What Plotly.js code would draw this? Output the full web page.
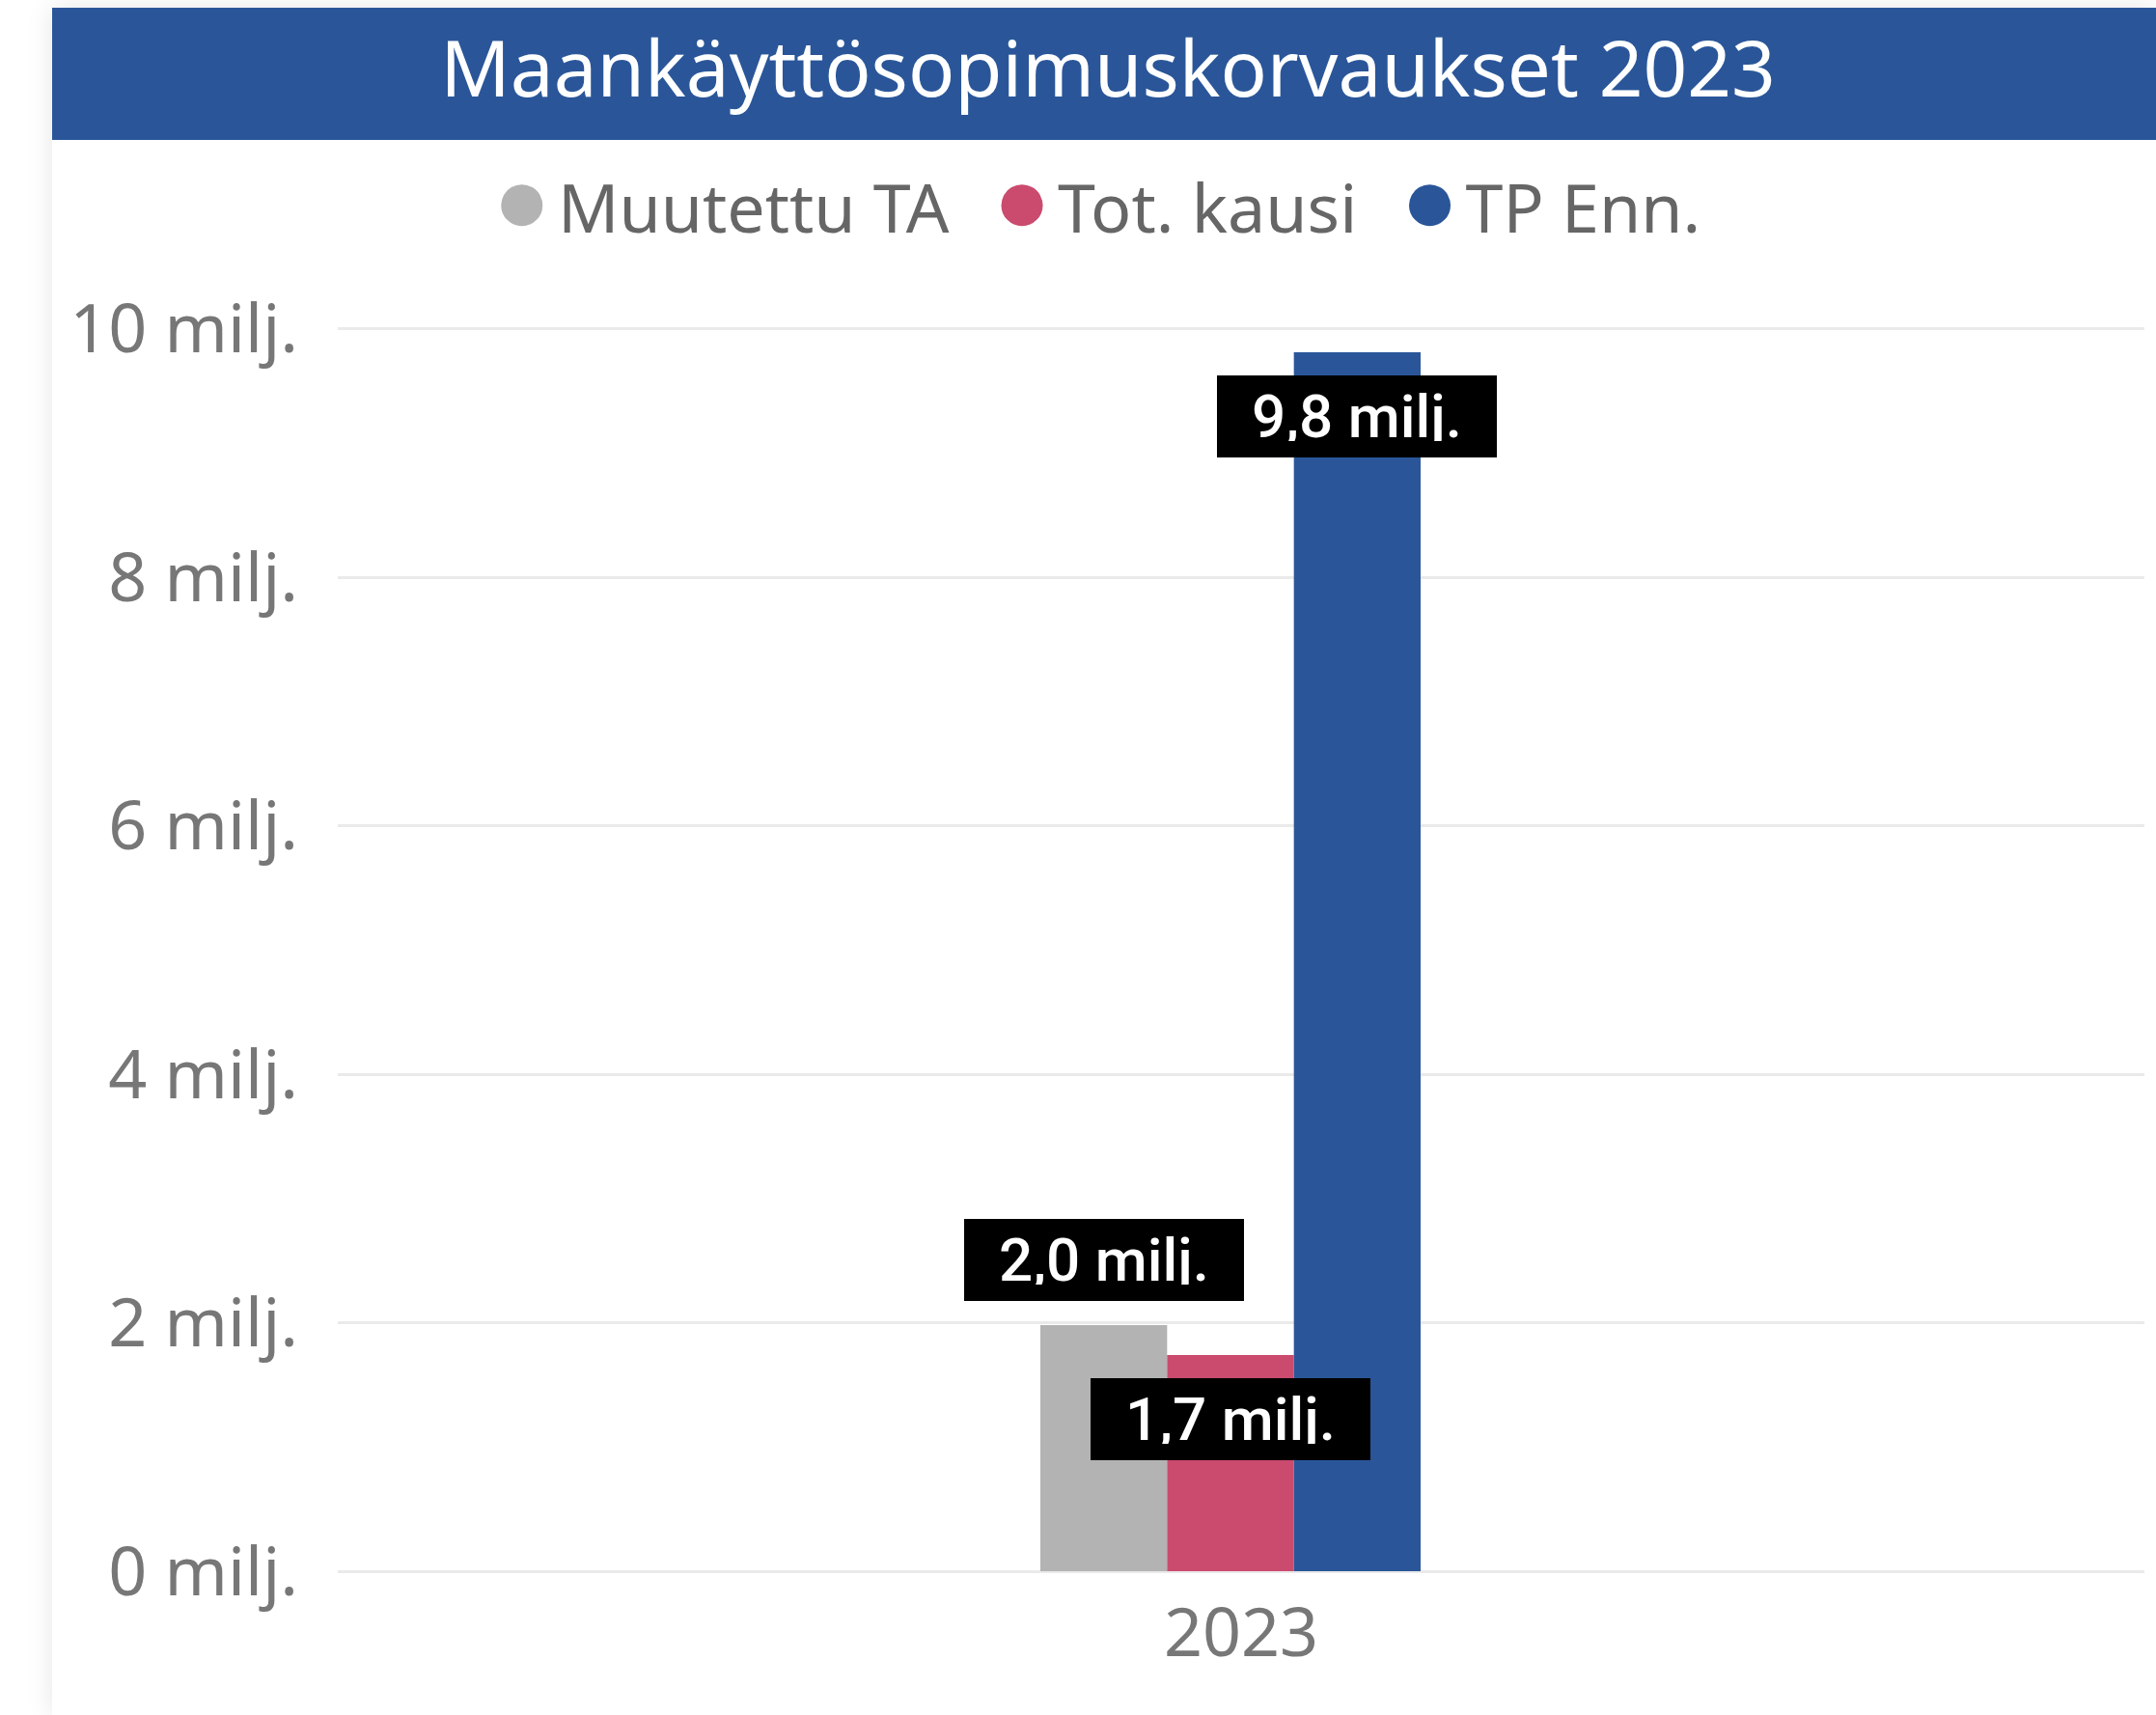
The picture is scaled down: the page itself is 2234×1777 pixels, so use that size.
<!DOCTYPE html>
<html>
<head>
<meta charset="utf-8">
<script src="https://cdn.plot.ly/plotly-3.0.1.min.js"></script>
<style>
  html, body { margin: 0; padding: 0; background: #ffffff; width: 2234px; height: 1777px; overflow: hidden; }
  #card { position: absolute; left: 54px; top: 8px; width: 2180px; height: 1769px; background: #ffffff;
          box-shadow: 0 0 26px rgba(0,0,0,0.10); }
  #chart { position: absolute; left: 0; top: 0; width: 2234px; height: 1777px; }
  #chart .legend .legendpoints { display: none; }
</style>
</head>
<body>
<div id="card"></div>
<div id="chart"></div>
<script>
// ---- data ----
var categories = ['2023'];
var seriesNames = ['Muutettu TA', 'Tot. kausi', 'TP Enn.'];
var muutettuTA = [1.98];
var totKausi = [1.74];
var tpEnn = [9.81];
var seriesColors = ['#B3B3B3', '#CA4B6E', '#2A5699'];
var yTickVals = [0, 2, 4, 6, 8, 10];
var yTickText = ['0 milj.', '2 milj.', '4 milj.', '6 milj.', '8 milj.', '10 milj.'];
var titleText = 'Maankäyttösopimuskorvaukset 2023';

// ---- geometry / style ----
var W = 2234, H = 1777;
var M = { l: 350, r: 12, t: 338, b: 149 };
var plotW = W - M.l - M.r, plotH = H - M.t - M.b;
var barGap = 0.2;
var seriesValues = [muutettuTA, totKausi, tpEnn];
var labelPos = ['outside', 'inside', 'inside'];
var fontMain = '"Noto Sans", "Open Sans", sans-serif';
var fontLabel = 'Roboto, "DejaVu Sans Condensed", sans-serif';

function px2paperX(px) { return (px - M.l) / plotW; }
function px2paperY(py) { return (H - M.b - py) / plotH; }
function fmt(v) { return v.toFixed(1).replace('.', ',') + ' milj.'; }

var traces = seriesNames.map(function (name, i) {
  return {
    type: 'bar',
    name: '<span style="color:' + seriesColors[i] + ';font-size:100px">●</span>&#8202;' + name,
    x: categories,
    y: seriesValues[i],
    marker: { color: seriesColors[i], line: { width: 0 } },
    hoverinfo: 'skip'
  };
});

// data labels placed through the axes at each bar's group slot
var nS = seriesNames.length;
var slotW = (1 - barGap) / nS;
var annotations = [];
seriesValues.forEach(function (vals, i) {
  vals.forEach(function (v, c) {
    var xc = c - (1 - barGap) / 2 + slotW * (i + 0.5);
    var outside = labelPos[i] === 'outside';
    annotations.push({
      x: xc, y: v, xref: 'x', yref: 'y',
      text: fmt(v), showarrow: false,
      xanchor: 'center', yanchor: outside ? 'bottom' : 'top',
      yshift: outside ? 25 : -24,
      bgcolor: '#000000', borderpad: 17, borderwidth: 0,
      width: 256, height: 51,
      font: { family: fontLabel, size: 62, color: '#ffffff', weight: 500 }
    });
  });
});

// x range so the group sits at its place in the plot area
var groupPx = 394, groupCenterPx = 1275;
var unitPx = groupPx / (1 - barGap);
var xr0 = -(groupCenterPx - M.l) / unitPx;
var xr1 = (W - M.r - groupCenterPx) / unitPx;

var layout = {
  width: W, height: H,
  margin: M,
  paper_bgcolor: 'rgba(0,0,0,0)',
  plot_bgcolor: 'rgba(0,0,0,0)',
  barmode: 'group',
  bargap: barGap,
  bargroupgap: 0,
  title: {
    text: titleText,
    font: { family: fontMain, size: 80, color: '#ffffff' },
    x: 1148 / W, xref: 'container', xanchor: 'center',
    y: 1 - 72 / H, yref: 'container', yanchor: 'middle'
  },
  shapes: [{
    type: 'rect', xref: 'paper', yref: 'paper', layer: 'below',
    x0: px2paperX(54), x1: px2paperX(W + 2),
    y0: px2paperY(145), y1: px2paperY(8),
    fillcolor: '#2A5699', line: { width: 0 }
  }],
  showlegend: true,
  legend: {
    orientation: 'h',
    x: px2paperX(1119), xanchor: 'center',
    y: px2paperY(214), yanchor: 'middle',
    font: { family: fontMain, size: 70, color: '#666666' },
    bgcolor: 'rgba(0,0,0,0)',
    itemclick: false, itemdoubleclick: false,
    traceorder: 'normal'
  },
  xaxis: {
    type: 'category',
    range: [xr0, xr1],
    showgrid: false, zeroline: false, showline: false,
    ticks: '',
    ticklabelstandoff: 17,
    ticklabelshift: 11,
    tickfont: { family: fontMain, size: 70, color: '#777777' },
    fixedrange: true
  },
  yaxis: {
    range: [0, 10.02],
    tickvals: yTickVals,
    ticktext: yTickText,
    showgrid: true, gridcolor: '#EAEAEA', gridwidth: 3,
    zeroline: true, zerolinecolor: '#EAEAEA', zerolinewidth: 3,
    showline: false, ticks: '',
    ticklabelstandoff: 40,
    tickfont: { family: fontMain, size: 70, color: '#777777' },
    fixedrange: true
  },
  annotations: annotations
};

Plotly.newPlot('chart', traces, layout, { displayModeBar: false, staticPlot: true });
</script>
</body>
</html>
